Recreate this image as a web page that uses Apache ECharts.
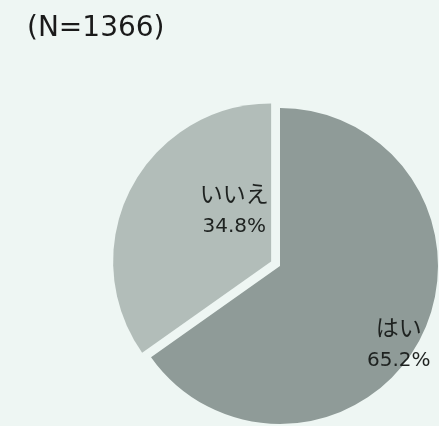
<!DOCTYPE html>
<html><head><meta charset="utf-8">
<script src="https://cdn.jsdelivr.net/npm/echarts@6/dist/echarts.min.js"></script>
<style>html,body{margin:0;padding:0;background:#eef6f3;}#c{width:439px;height:426px;}</style>
</head><body><div id="c"></div>
<script>
const titleText = '(N=1366)';
const categories = ['はい', 'いいえ'];
const values = [65.2, 34.8];
const colors = ['#8f9b98', '#b2bdb9'];
const labelShifts = [[46, 39], [36, -15]];
const selectedFlags = [false, true];

const chart = echarts.init(document.getElementById('c'));
chart.setOption({
  backgroundColor: '#eef6f3',
  animation: false,
  title: {
    text: titleText, left: 22, top: 10,
    textStyle: { fontFamily: 'DejaVu Sans, sans-serif', fontSize: 28, fontWeight: 'normal', color: '#1a1a1a' }
  },
  series: [{
    type: 'pie',
    center: [280, 266],
    radius: 158,
    startAngle: 90,
    clockwise: true,
    selectedMode: 'multiple',
    selectedOffset: 10,
    avoidLabelOverlap: false,
    label: {
      show: true, position: 'inside',
      formatter: p => '{n|' + p.name + '}\n{v|' + p.value.toFixed(1) + '%}',
      rich: {
        n: { fontFamily: 'Noto Sans CJK JP', fontSize: 23, color: '#1e2220', lineHeight: 36 },
        v: { fontFamily: 'DejaVu Sans', fontSize: 20, color: '#1e2220', lineHeight: 30 }
      }
    },
    labelLayout: p => ({ dx: labelShifts[p.dataIndex][0], dy: labelShifts[p.dataIndex][1] }),
    labelLine: { show: false },
    emphasis: { disabled: true },
    data: categories.map((c, i) => ({
      name: c, value: values[i], selected: selectedFlags[i],
      itemStyle: { color: colors[i] }
    }))
  }]
});
</script></body></html>
